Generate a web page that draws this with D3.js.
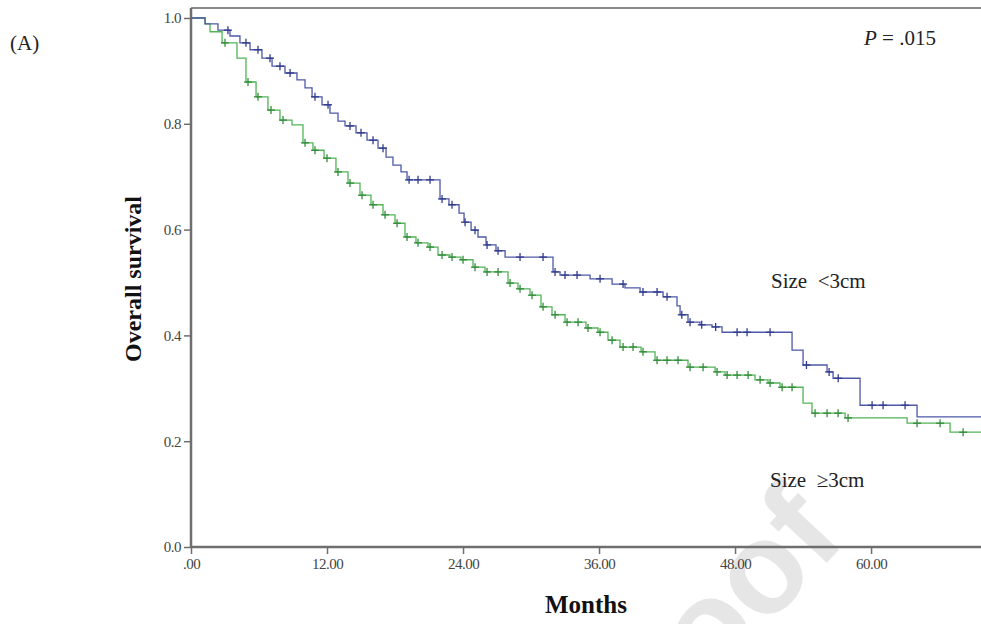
<!DOCTYPE html>
<html>
<head>
<meta charset="utf-8">
<script src="https://cdn.jsdelivr.net/npm/d3@7"></script>
<style>
  html, body { margin: 0; padding: 0; background: #fff; }
  svg { display: block; }
  text { font-family: "Liberation Serif", "Times New Roman", serif; }
</style>
</head>
<body>
<svg id="chart" width="981" height="624"></svg>
<script>
// ---- Data ----
const xTicks = [0, 12, 24, 36, 48, 60];
const xTickLabels = [".00", "12.00", "24.00", "36.00", "48.00", "60.00"];
const yTicks = [0, 0.2, 0.4, 0.6, 0.8, 1.0];
const yTickLabels = ["0.0", "0.2", "0.4", "0.6", "0.8", "1.0"];
const seriesNames = ["Size <3cm", "Size \u22653cm"];

// Blue: tumour size < 3 cm — [months, survival after step]
const smallTimes = [0, 1.24, 2.38, 3.44, 4.32, 5.21, 6.26, 7.15, 8.29, 9.35, 10.06, 10.68, 11.56, 12.26, 12.97, 13.59, 14.56, 15.53, 16.50, 17.21, 17.82, 18.53, 19.06, 21.97, 22.76, 23.65, 24.09, 24.71, 25.32, 26.03, 26.91, 27.71, 31.94, 32.56, 35.21, 37.15, 38.29, 39.62, 41.65, 42.88, 43.15, 43.85, 44.91, 45.97, 46.85, 53.03, 54.0, 56.12, 56.65, 59.03, 64.06];
const smallSurv  = [1.0, 0.989, 0.977, 0.966, 0.953, 0.940, 0.924, 0.909, 0.896, 0.883, 0.868, 0.851, 0.836, 0.820, 0.805, 0.796, 0.783, 0.769, 0.754, 0.737, 0.722, 0.709, 0.694, 0.658, 0.647, 0.631, 0.614, 0.599, 0.586, 0.571, 0.560, 0.548, 0.520, 0.514, 0.507, 0.497, 0.490, 0.482, 0.473, 0.456, 0.439, 0.425, 0.420, 0.416, 0.406, 0.372, 0.344, 0.331, 0.319, 0.268, 0.246];
const smallCensored = [3.26, 4.85, 5.91, 6.97, 7.85, 8.74, 10.94, 12.09, 14.03, 15.0, 16.06, 16.94, 19.24, 20.03, 21.09, 22.15, 23.03, 24.18, 25.06, 26.12, 27.09, 29.03, 31.06, 32.12, 33.0, 34.06, 36.09, 38.12, 39.88, 41.12, 42.0, 43.3, 44.03, 45.06, 46.29, 48.18, 49.06, 51.09, 54.3, 56.3, 57.1, 60.09, 61.06, 63.0];

// Green: tumour size >= 3 cm
const largeTimes = [0, 1.24, 1.68, 2.74, 4.06, 4.85, 5.74, 6.79, 7.85, 8.91, 9.88, 10.76, 11.74, 12.79, 13.85, 14.91, 15.88, 16.94, 18.0, 18.88, 19.85, 20.91, 21.79, 22.85, 23.82, 24.88, 25.94, 27.97, 28.85, 29.91, 30.88, 31.85, 33.0, 34.85, 35.91, 36.79, 37.85, 39.71, 40.94, 43.85, 46.24, 47.12, 49.76, 50.91, 51.97, 54.0, 54.79, 57.71, 63.18, 66.97];
const largeSurv  = [1.0, 0.989, 0.974, 0.953, 0.924, 0.879, 0.851, 0.826, 0.807, 0.798, 0.764, 0.750, 0.735, 0.709, 0.688, 0.665, 0.647, 0.628, 0.612, 0.586, 0.575, 0.567, 0.552, 0.548, 0.543, 0.529, 0.520, 0.499, 0.488, 0.476, 0.454, 0.439, 0.425, 0.414, 0.406, 0.391, 0.378, 0.369, 0.353, 0.340, 0.331, 0.325, 0.316, 0.310, 0.302, 0.272, 0.253, 0.244, 0.234, 0.217];
const largeCensored = [3.0, 5.03, 5.91, 7.06, 8.12, 10.06, 10.94, 12.0, 12.97, 14.03, 15.09, 16.06, 17.12, 18.18, 19.06, 20.03, 21.09, 22.15, 23.03, 24.0, 25.06, 26.12, 27.09, 28.15, 29.03, 30.09, 31.06, 32.12, 33.18, 34.15, 35.03, 36.09, 37.15, 38.12, 39.0, 39.88, 41.12, 42.0, 42.97, 44.03, 45.18, 46.41, 47.3, 48.18, 49.15, 50.21, 51.09, 52.15, 53.03, 55.06, 56.12, 57.09, 57.97, 64.06, 66.09, 68.12];

const xMax = 69.7;

// ---- Layout ----
const svg = d3.select("#chart");
const mLeft = 191, mRight = 981, mTop = 18, mBottom = 547, frameTop = 8;
const x = d3.scaleLinear().domain([0, xMax]).range([mLeft, mRight]);
const y = d3.scaleLinear().domain([0, 1]).range([mBottom, mTop]);

const axisColor = "#6e6e6e";
const colors = ["#4d58a8", "#52b456"];
const markColors = ["#313c8c", "#348c3c"];

// Watermark
svg.append("text")
  .attr("transform", "translate(848,540) rotate(-47)")
  .attr("text-anchor", "end")
  .style("font-family", "Liberation Sans, Arial, sans-serif")
  .style("font-weight", "bold")
  .style("font-size", "130px")
  .attr("fill", "#e6e6e6")
  .text("Proof");

// Frame top line
svg.append("line")
  .attr("x1", mLeft).attr("x2", mRight)
  .attr("y1", frameTop).attr("y2", frameTop)
  .attr("stroke", "#8a8a8a").attr("stroke-width", 2);

// Axes
const yAxis = d3.axisLeft(y).tickValues(yTicks)
  .tickFormat((d, i) => yTickLabels[i]).tickSize(7).tickPadding(3);
const gy = svg.append("g").attr("transform", `translate(${mLeft},0)`).call(yAxis);
gy.select(".domain").remove();
gy.selectAll(".tick line").attr("stroke", axisColor).attr("stroke-width", 1.5);
gy.selectAll(".tick text").style("font-size", "15px").style("letter-spacing", "-0.5px").attr("fill", "#444");

const xAxis = d3.axisBottom(x).tickValues(xTicks)
  .tickFormat((d, i) => xTickLabels[i]).tickSize(7).tickPadding(4);
const gx = svg.append("g").attr("transform", `translate(0,${mBottom})`).call(xAxis);
gx.select(".domain").remove();
gx.selectAll(".tick line").attr("stroke", axisColor).attr("stroke-width", 1.5);
gx.selectAll(".tick text").style("font-size", "15px").style("letter-spacing", "-0.5px").attr("fill", "#444");

svg.append("line").attr("x1", mLeft).attr("x2", mLeft)
  .attr("y1", frameTop).attr("y2", mBottom + 1)
  .attr("stroke", axisColor).attr("stroke-width", 2.5);
svg.append("line").attr("x1", mLeft).attr("x2", mRight)
  .attr("y1", mBottom).attr("y2", mBottom)
  .attr("stroke", axisColor).attr("stroke-width", 2.5);

// Curves
const series = [
  { times: smallTimes, surv: smallSurv, cens: smallCensored },
  { times: largeTimes, surv: largeSurv, cens: largeCensored }
];
const line = d3.line().x(d => x(d[0])).y(d => y(d[1])).curve(d3.curveStepAfter);

// draw green first so blue overlays at the shared start
[1, 0].forEach(k => {
  const s = series[k];
  const pts = s.times.map((t, i) => [t, s.surv[i]]);
  pts.push([xMax, s.surv[s.surv.length - 1]]);
  svg.append("path").datum(pts)
    .attr("fill", "none").attr("stroke", colors[k]).attr("stroke-width", 1.3)
    .attr("d", line);
  const bis = d3.bisector(d => d).right;
  const g = svg.append("g");
  s.cens.forEach(t => {
    const idx = Math.max(0, bis(s.times, t) - 1);
    const cx = x(t), cy = y(s.surv[idx]);
    g.append("line").attr("x1", cx).attr("x2", cx).attr("y1", cy - 4).attr("y2", cy + 4)
      .attr("stroke", markColors[k]).attr("stroke-width", 1.3);
    g.append("line").attr("x1", cx - 4).attr("x2", cx + 4).attr("y1", cy).attr("y2", cy)
      .attr("stroke", markColors[k]).attr("stroke-width", 1.3);
  });
});

// Text labels
svg.append("text").attr("x", 10).attr("y", 50).style("font-size", "21px").attr("fill", "#222").text("(A)");

svg.append("text")
  .attr("transform", "translate(141,279) rotate(-90)")
  .attr("text-anchor", "middle")
  .style("font-size", "24px").style("font-weight", "bold").attr("fill", "#111")
  .text("Overall survival");

svg.append("text").attr("x", 586).attr("y", 613).attr("text-anchor", "middle")
  .style("font-size", "25px").style("font-weight", "bold").attr("fill", "#111")
  .text("Months");

const pt = svg.append("text").attr("x", 864).attr("y", 45).style("font-size", "21px").attr("fill", "#222");
pt.append("tspan").style("font-style", "italic").text("P");
pt.append("tspan").text(" = .015");

svg.append("text").attr("x", 771).attr("y", 288).style("font-size", "21px").attr("fill", "#222")
  .text(seriesNames[0].replace(" ", "\u00a0\u00a0"));
svg.append("text").attr("x", 770).attr("y", 487).style("font-size", "21px").attr("fill", "#222")
  .text(seriesNames[1].replace(" ", "\u00a0\u00a0"));
</script>
</body>
</html>
